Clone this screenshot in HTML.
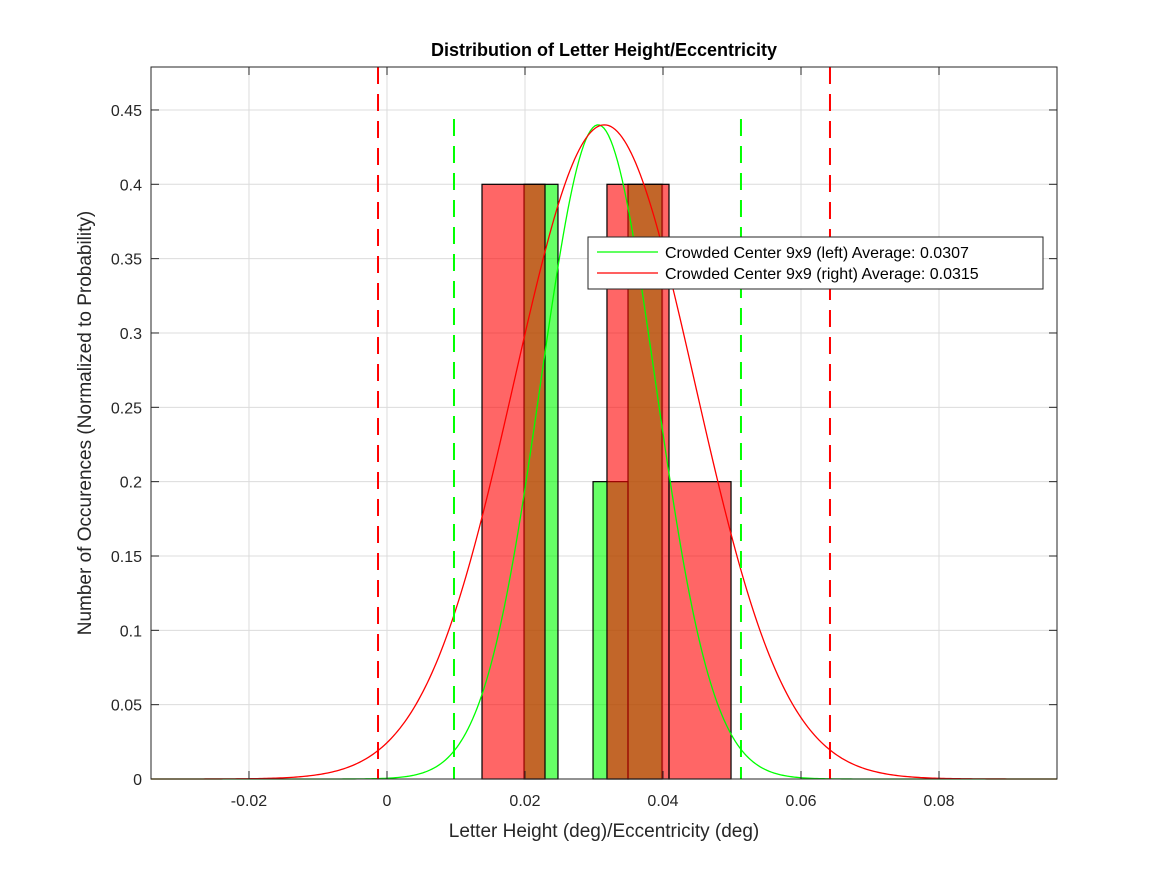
<!DOCTYPE html>
<html><head><meta charset="utf-8"><style>
body{margin:0;background:#fff}
svg{display:block;font-family:"Liberation Sans",Arial,sans-serif}
</style></head><body>
<svg id="chart" width="1167" height="875">
<rect width="1167" height="875" fill="#fff"/>
<g id="grid"></g>
<g id="bars"></g>
<g id="curves"></g>
<g id="axes"></g>
<text x="604" y="56" text-anchor="middle" font-weight="bold" font-size="18">Distribution of Letter Height/Eccentricity</text>
<text x="604" y="837" text-anchor="middle" font-size="19" fill="#262626">Letter Height (deg)/Eccentricity (deg)</text>
<text transform="translate(91,423) rotate(-90)" text-anchor="middle" font-size="19" fill="#262626">Number of Occurences (Normalized to Probability)</text>
<g>
<rect x="588" y="237" width="455" height="52" fill="#fff" stroke="#262626" stroke-width="1"/>
<line x1="597" y1="252" x2="658" y2="252" stroke="#00ff00" stroke-width="1.3"/>
<text x="665" y="258" font-size="16" fill="#000">Crowded Center 9x9 (left) Average: 0.0307</text>
<line x1="597" y1="273" x2="658" y2="273" stroke="#ff0000" stroke-width="1.3"/>
<text x="665" y="279" font-size="16" fill="#000">Crowded Center 9x9 (right) Average: 0.0315</text>
</g>
</svg>
<script>
const greenEdges=[0.01986,0.02478,0.02986,0.03493,0.03986];
const greenCounts=[0.4,0,0.2,0.4];
const redEdges=[0.01377,0.0229,0.03188,0.04087,0.04986];
const redCounts=[0.4,0,0.4,0.2];
const greenMean=0.0306, greenSigma=0.00832, greenPeak=0.44;
const redMean=0.0315, redSigma=0.0131, redPeak=0.44;
const greenDashed=[0.00971,0.0513];
const redDashed=[-0.0013,0.0642];
const xTicks=[-0.02,0,0.02,0.04,0.06,0.08];
const xTickLabels=["-0.02","0","0.02","0.04","0.06","0.08"];
const yTicks=[0,0.05,0.1,0.15,0.2,0.25,0.3,0.35,0.4,0.45];
const yTickLabels=["0","0.05","0.1","0.15","0.2","0.25","0.3","0.35","0.4","0.45"];
const X0=151,X1=1057,Y0=67,Y1=779;
const xmin=-0.03420,xmax=0.09710,ymin=0,ymax=0.4789;
const sx=v=>X0+(v-xmin)/(xmax-xmin)*(X1-X0);
const sy=v=>Y1-(v-ymin)/(ymax-ymin)*(Y1-Y0);
const NS="http://www.w3.org/2000/svg";
function mk(tag,parent,attrs){const e=document.createElementNS(NS,tag);for(const k in attrs)e.setAttribute(k,attrs[k]);document.getElementById(parent).appendChild(e);return e;}
xTicks.forEach((t,i)=>{const e=mk('line','grid',{x1:sx(t),x2:sx(t),y1:Y0,y2:Y1,stroke:'#dcdcdc','stroke-width':1});

});
yTicks.forEach((t,i)=>{const e=mk('line','grid',{x1:X0,x2:X1,y1:sy(t),y2:sy(t),stroke:'#dcdcdc','stroke-width':1});

});
function bars(edges,counts,color,name){counts.forEach((c,i)=>{if(c<=0)return;
const e=mk('rect','bars',{x:sx(edges[i]),y:sy(c),width:sx(edges[i+1])-sx(edges[i]),height:sy(0)-sy(c),fill:color,'fill-opacity':0.6,stroke:'#000','stroke-width':1.2});

});}
bars(greenEdges,greenCounts,'#00ff00','left');
bars(redEdges,redCounts,'#ff0000','right');
function curve(m,s,p,color,name){let d='';for(let i=0;i<=400;i++){const x=xmin+(xmax-xmin)*i/400;const y=p*Math.exp(-((x-m)*(x-m))/(2*s*s));d+=(i?'L':'M')+sx(x).toFixed(2)+' '+sy(y).toFixed(2);}
const e=mk('path','curves',{d:d,fill:'none',stroke:color,'stroke-width':1.3});

}
curve(greenMean,greenSigma,greenPeak,'#00ff00','left');
curve(redMean,redSigma,redPeak,'#ff0000','right');
greenDashed.forEach(v=>{const e=mk('line','curves',{x1:sx(v),x2:sx(v),y1:119,y2:Y1,stroke:'#00ff00','stroke-width':2,'stroke-dasharray':'17 10'});

});
redDashed.forEach(v=>{const e=mk('line','curves',{x1:sx(v),x2:sx(v),y1:Y0,y2:Y1,stroke:'#ff0000','stroke-width':2,'stroke-dasharray':'17 10'});

});
const box=mk('rect','axes',{x:X0,y:Y0,width:X1-X0,height:Y1-Y0,fill:'none',stroke:'#262626','stroke-width':1});


xTicks.forEach((t,i)=>{mk('line','axes',{x1:sx(t),x2:sx(t),y1:Y1,y2:Y1-8,stroke:'#262626'});mk('line','axes',{x1:sx(t),x2:sx(t),y1:Y0,y2:Y0+8,stroke:'#262626'});
const e=mk('text','axes',{x:sx(t),y:Y1+27,'text-anchor':'middle','font-size':16,fill:'#262626'});e.textContent=xTickLabels[i];

});
yTicks.forEach((t,i)=>{mk('line','axes',{x1:X0,x2:X0+8,y1:sy(t),y2:sy(t),stroke:'#262626'});mk('line','axes',{x1:X1,x2:X1-8,y1:sy(t),y2:sy(t),stroke:'#262626'});
const e=mk('text','axes',{x:X0-9,y:sy(t)+6,'text-anchor':'end','font-size':16,fill:'#262626'});e.textContent=yTickLabels[i];

});
</script>
</body></html>
